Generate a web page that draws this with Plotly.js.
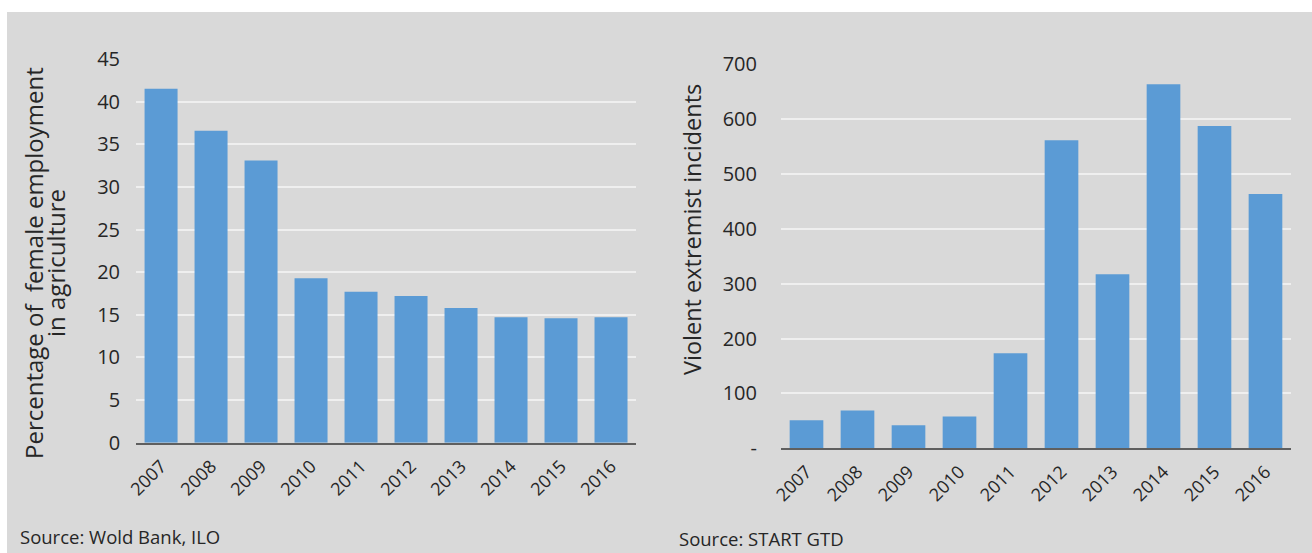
<!DOCTYPE html>
<html>
<head>
<meta charset="utf-8">
<script src="https://cdn.plot.ly/plotly-3.0.1.min.js"></script>
<style>
html,body{margin:0;padding:0;background:#ffffff;width:1312px;height:553px;overflow:hidden;}
#chart{position:absolute;left:7px;top:12px;width:1305px;height:541px;}
</style>
</head>
<body>
<div id="chart"></div>
<script>
const years = ['2007','2008','2009','2010','2011','2012','2013','2014','2015','2016'];
const femaleAgriShare = [41.5, 36.6, 33.1, 19.3, 17.7, 17.2, 15.8, 14.7, 14.6, 14.7];
const extremistIncidents = [51, 69, 42, 58, 173, 561, 317, 663, 587, 463];
const leftYTicks = [0, 5, 10, 15, 20, 25, 30, 35, 40, 45];
const rightYTickVals = [0, 100, 200, 300, 400, 500, 600, 700];
const rightYTickText = ['-', '100', '200', '300', '400', '500', '600', '700'];
const leftTitleLine1 = 'Percentage of\u00a0\u00a0female employment';
const leftTitleLine2 = 'in agriculture';
const rightTitle = 'Violent extremist incidents';
const leftSource = 'Source: Wold Bank, ILO';
const rightSource = 'Source: START GTD';

const FONT = 'Open Sans, sans-serif';
const TXT = '#262626';
const BAR = '#5b9bd5';
const GRID = '#efefef';

const traces = [
  {type:'bar', x: years, y: femaleAgriShare, xaxis:'x', yaxis:'y', marker:{color:BAR}, hoverinfo:'x+y'},
  {type:'bar', x: years, y: extremistIncidents, xaxis:'x2', yaxis:'y2', marker:{color:BAR}, hoverinfo:'x+y'}
];

const xCommon = {
  type:'category', showgrid:false, zeroline:false, showline:true, linecolor:'#5f5f5f', linewidth:2,
  ticks:'', tickangle:-45, tickfont:{family:FONT, size:18, color:TXT}, ticklabelstandoff:4, fixedrange:true
};
const yCommon = {
  showgrid:true, gridcolor:GRID, gridwidth:2, zeroline:false, showline:false, ticks:'',
  tickfont:{family:FONT, size:20, color:TXT}, fixedrange:true
};

const px = v => (v - 7) / 1305;
const py = v => (541 - (v - 12)) / 541;

const layout = {
  width:1305, height:541,
  margin:{l:0, r:0, t:0, b:0},
  paper_bgcolor:'#d9d9d9', plot_bgcolor:'#d9d9d9',
  showlegend:false, bargap:0.34,
  xaxis: Object.assign({}, xCommon, {domain:[0.0989, 0.4820], anchor:'y'}),
  yaxis: Object.assign({}, yCommon, {domain:[0.2039, 0.9131], anchor:'x', range:[0,45], tickvals:leftYTicks, ticklabelstandoff:15}),
  xaxis2: Object.assign({}, xCommon, {domain:[0.5931, 0.9839], anchor:'y2'}),
  yaxis2: Object.assign({}, yCommon, {domain:[0.1935, 0.9039], anchor:'x2', range:[0,700], tickvals:rightYTickVals, ticktext:rightYTickText, ticklabelstandoff:23}),
  annotations:[
    {text:leftTitleLine1, xref:'paper', yref:'paper', x:px(33), y:py(263), xanchor:'center', yanchor:'middle', textangle:-90, showarrow:false, font:{family:FONT, size:24, color:TXT}},
    {text:leftTitleLine2, xref:'paper', yref:'paper', x:px(55), y:py(263), xanchor:'center', yanchor:'middle', textangle:-90, showarrow:false, font:{family:FONT, size:24, color:TXT}},
    {text:rightTitle, xref:'paper', yref:'paper', x:px(692), y:py(230), xanchor:'center', yanchor:'middle', textangle:-90, showarrow:false, font:{family:FONT, size:23.5, color:TXT}},
    {text:leftSource, xref:'paper', yref:'paper', x:px(18), y:py(551), xanchor:'left', yanchor:'bottom', showarrow:false, font:{family:FONT, size:18.5, color:TXT}},
    {text:rightSource, xref:'paper', yref:'paper', x:px(677), y:py(553), xanchor:'left', yanchor:'bottom', showarrow:false, font:{family:FONT, size:18.5, color:TXT}}
  ]
};

Plotly.newPlot('chart', traces, layout, {displayModeBar:false, staticPlot:true});
</script>
</body>
</html>
